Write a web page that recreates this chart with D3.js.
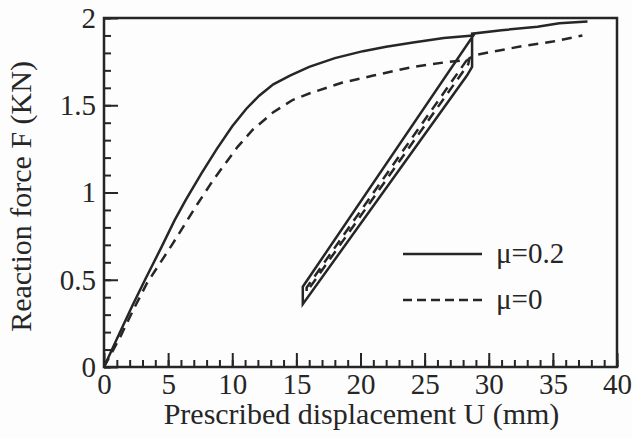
<!DOCTYPE html>
<html>
<head>
<meta charset="utf-8">
<script src="https://cdn.jsdelivr.net/npm/d3@7"></script>
<style>
	html, body { margin: 0; padding: 0; background: #fdfdfd; }
	svg { display: block; }
</style>
</head>
<body>
<div id="chart"></div>
<script>
(function() {
	// Reaction force vs prescribed displacement
	// mu = 0.2 : load, unload to ~15.5 mm, reload, continue
	const frictionU = [0, 1, 2.2, 3.2, 4.5, 5.5, 6.4, 7.6, 8.8, 10, 11.1, 12.1, 13.2, 14.5, 16, 18, 20.2, 22, 24.1, 26.5, 28.8,
		15.5, 15.5, 28.3, 28.7, 28.7, 31, 33.8, 35.5, 37.7];
	const frictionF = [0, 0.16, 0.35, 0.5, 0.69, 0.84, 0.96, 1.11, 1.25, 1.38, 1.48, 1.555, 1.62, 1.67, 1.72, 1.77, 1.81, 1.835, 1.86, 1.885, 1.90,
		0.46, 0.36, 1.67, 1.72, 1.91, 1.93, 1.95, 1.97, 1.98];

	// mu = 0
	const frictionlessU = [0, 1.25, 2.3, 3.35, 5.3, 7.25, 8.5, 10.4, 11.6, 13.2, 14.7, 16.1, 18.6, 21, 24.1, 26.5, 28.3,
		15.8, 15.8, 28.4, 28.5, 29.1, 32.7, 35, 37.3];
	const frictionlessF = [0, 0.17, 0.33, 0.48, 0.70, 0.93, 1.07, 1.26, 1.36, 1.46, 1.53, 1.57, 1.63, 1.67, 1.72, 1.745, 1.76,
		0.455, 0.43, 1.735, 1.77, 1.79, 1.84, 1.865, 1.90];

	const xMajorTicks = [0, 5, 10, 15, 20, 25, 30, 35, 40];
	const yMajorTicks = [0, 0.5, 1, 1.5, 2];
	const yTickLabels = ['0', '0.5', '1', '1.5', '2'];
	const legendLabels = ['\u03bc=0.2', '\u03bc=0'];

	const width = 632;
	const height = 439;
	const margin = { top: 18, right: 15, bottom: 72, left: 104 };
	const ink = '#262626';
	const fontFamily = '"Liberation Serif", Tinos, "Times New Roman", serif';

	const svg = d3.select('#chart')
		.append('svg')
		.attr('width', width)
		.attr('height', height);

	const x = d3.scaleLinear().domain([0, 40]).range([margin.left, width - margin.right]);
	const y = d3.scaleLinear().domain([0, 2]).range([height - margin.bottom, margin.top]);

	// Minor ticks (inward)
	svg.append('g')
		.attr('transform', 'translate(0,' + y(0) + ')')
		.call(d3.axisBottom(x).tickValues(d3.range(0, 41, 1)).tickSize(-7).tickFormat(''));
	svg.append('g')
		.attr('transform', 'translate(' + x(0) + ',0)')
		.call(d3.axisLeft(y).tickValues(d3.range(0, 21, 1).map(function(d) { return d / 10; })).tickSize(-7).tickFormat(''));

	// Major ticks with labels
	svg.append('g')
		.attr('transform', 'translate(0,' + y(0) + ')')
		.call(d3.axisBottom(x).tickValues(xMajorTicks).tickSize(-14).tickPadding(6).tickFormat(d3.format('d')));
	svg.append('g')
		.attr('transform', 'translate(' + x(0) + ',0)')
		.call(d3.axisLeft(y).tickValues(yMajorTicks).tickSize(-14).tickPadding(8)
			.tickFormat(function(d, i) { return yTickLabels[i]; }));

	svg.selectAll('.domain').remove();
	svg.selectAll('.tick line').attr('stroke', ink).attr('stroke-width', 2);
	svg.selectAll('.tick text')
		.attr('fill', ink)
		.style('font-family', fontFamily)
		.style('font-size', '29px');

	// Frame
	svg.append('rect')
		.attr('x', x(0))
		.attr('y', y(2))
		.attr('width', x(40) - x(0))
		.attr('height', y(0) - y(2))
		.attr('fill', 'none')
		.attr('stroke', ink)
		.attr('stroke-width', 2.5);

	const line = d3.line()
		.x(function(d) { return x(d[0]); })
		.y(function(d) { return y(d[1]); });

	const solidData = frictionU.map(function(u, i) { return [u, frictionF[i]]; });
	const dashedData = frictionlessU.map(function(u, i) { return [u, frictionlessF[i]]; });

	svg.append('path')
		.datum(solidData)
		.attr('d', line)
		.attr('fill', 'none')
		.attr('stroke', ink)
		.attr('stroke-width', 2.5)
		.attr('stroke-linejoin', 'miter');

	svg.append('path')
		.datum(dashedData)
		.attr('d', line)
		.attr('fill', 'none')
		.attr('stroke', ink)
		.attr('stroke-width', 2.5)
		.attr('stroke-dasharray', '10,7');

	// Legend
	const legend = svg.append('g');
	[0, 1].forEach(function(i) {
		const ly = 254 + i * 46;
		legend.append('line')
			.attr('x1', 403)
			.attr('x2', 482)
			.attr('y1', ly)
			.attr('y2', ly)
			.attr('stroke', ink)
			.attr('stroke-width', 2.5)
			.attr('stroke-dasharray', i === 0 ? null : '9,5');
		legend.append('text')
			.attr('x', 496)
			.attr('y', ly + 9)
			.attr('fill', ink)
			.style('font-family', fontFamily)
			.style('font-size', '29px')
			.text(legendLabels[i]);
	});

	// Axis titles
	svg.append('text')
		.attr('x', (x(0) + x(40)) / 2 + 1)
		.attr('y', 424)
		.attr('text-anchor', 'middle')
		.attr('fill', ink)
		.style('font-family', fontFamily)
		.style('font-size', '30px')
		.text('Prescribed displacement U (mm)');

	svg.append('text')
		.attr('transform', 'translate(31,' + (y(1) + 4) + ') rotate(-90)')
		.attr('text-anchor', 'middle')
		.attr('fill', ink)
		.style('font-family', fontFamily)
		.style('font-size', '30px')
		.text('Reaction force F (KN)');
})();
</script>
</body>
</html>
